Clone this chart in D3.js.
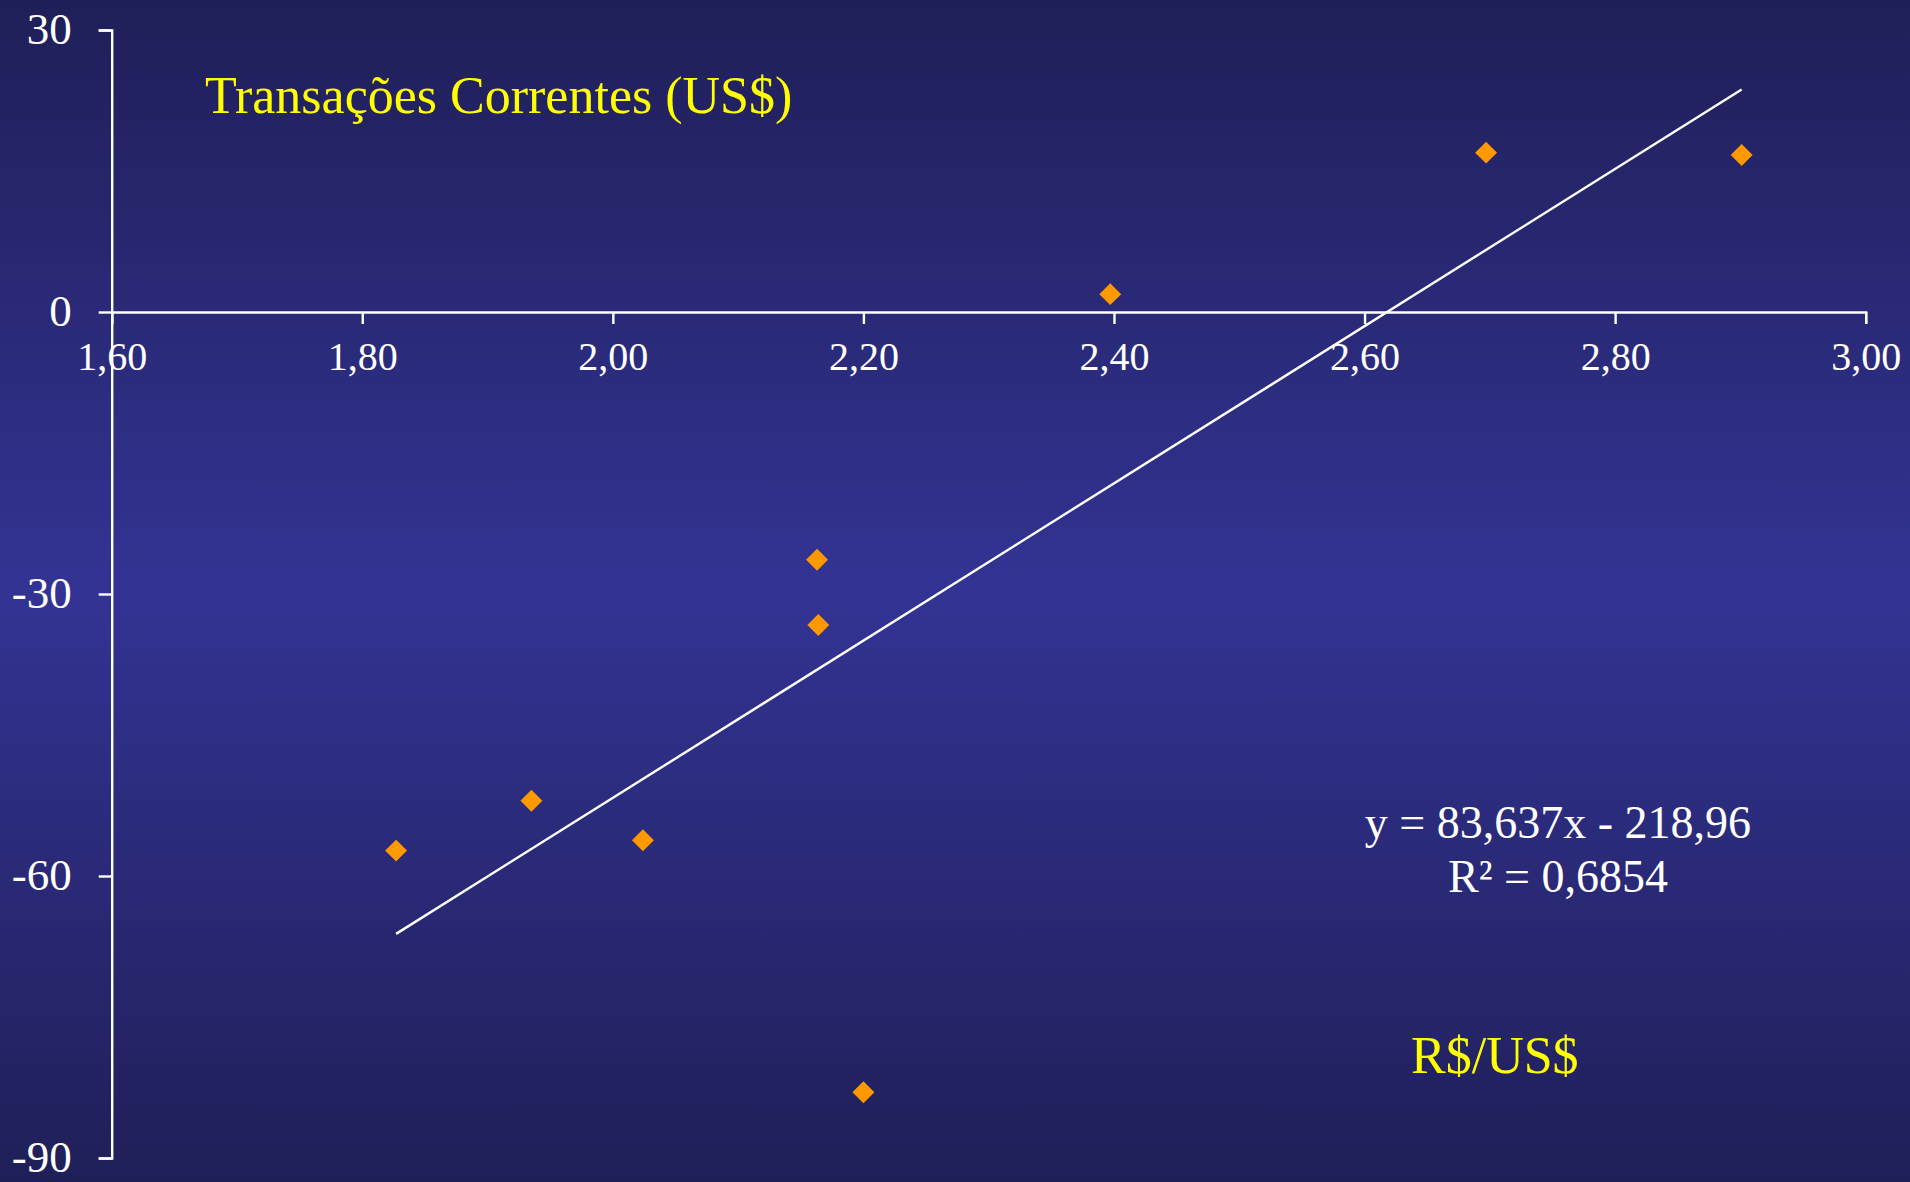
<!DOCTYPE html>
<html>
<head>
<meta charset="utf-8">
<script src="https://cdn.jsdelivr.net/npm/d3@7/dist/d3.min.js"></script>
<style>
  html, body { margin: 0; padding: 0; background: #1f1f5a; }
  svg { display: block; }
</style>
</head>
<body>
<script>
// exchange rate R$/US$ vs current account (US$ bn)
var cambio = [1.827, 1.935, 2.024, 2.163, 2.164, 2.200, 2.397, 2.697, 2.901];
var transacoes = [-57.3, -52.0, -56.2, -26.35, -33.3, -83.0, 1.9, 16.95, 16.7];
var xTicks = [1.6, 1.8, 2.0, 2.2, 2.4, 2.6, 2.8, 3.0];
var yTicks = [30, 0, -30, -60, -90];
var trendCoef = [83.637, -218.96];
var trendLabels = ["y = 83,637x - 218,96", "R\u00b2 = 0,6854"];

var W = 1910, H = 1182;
var svg = d3.select("body").append("svg").attr("width", W).attr("height", H);

var defs = svg.append("defs");
var grad = defs.append("linearGradient").attr("id", "bg")
    .attr("x1", 0).attr("y1", 0).attr("x2", 0).attr("y2", 1);
grad.append("stop").attr("offset", "0%").attr("stop-color", "#1f1f58");
grad.append("stop").attr("offset", "50%").attr("stop-color", "#333394");
grad.append("stop").attr("offset", "100%").attr("stop-color", "#1f1f58");
svg.append("rect").attr("width", W).attr("height", H).attr("fill", "url(#bg)");

var x = d3.scaleLinear().domain([1.6, 3.0]).range([111.7, 1865.7]);
var y = d3.scaleLinear().domain([-90, 30]).range([1158, 30]);

var serif = "'Liberation Serif', 'Times New Roman', serif";
var fmtComma = function(d) { return d3.format(".2f")(d).replace(".", ","); };

// x axis sits on y = 0
var gx = svg.append("g").attr("transform", "translate(0," + y(0) + ")")
    .call(d3.axisBottom(x).tickValues(xTicks).tickSize(12).tickSizeOuter(12).tickPadding(18).tickFormat(fmtComma));
gx.select(".domain").attr("stroke", "#fff").attr("stroke-width", 2.4);
gx.selectAll(".tick line").attr("stroke", "#fff").attr("stroke-width", 2.4);
gx.selectAll(".tick text").attr("fill", "#fff")
    .style("font-family", serif).style("font-size", "40px");

var gy = svg.append("g").attr("transform", "translate(" + x(1.6) + ",0)")
    .call(d3.axisLeft(y).tickValues(yTicks).tickSize(13).tickSizeOuter(13).tickPadding(27).tickFormat(function(d) { return String(d); }));
gy.select(".domain").attr("stroke", "#fff").attr("stroke-width", 2.4);
gy.selectAll(".tick line").attr("stroke", "#fff").attr("stroke-width", 2.4);
gy.selectAll(".tick text").attr("fill", "#fff").attr("dy", "0.3em")
    .style("font-family", serif).style("font-size", "45px");

// linear trend over the data range
var xMin = d3.min(cambio), xMax = d3.max(cambio);
var trend = [xMin, xMax].map(function(v) { return [v, trendCoef[0] * v + trendCoef[1]]; });
svg.append("path")
    .attr("d", d3.line().x(function(d) { return x(d[0]); }).y(function(d) { return y(d[1]); })(trend))
    .attr("stroke", "#fff").attr("stroke-width", 2.4).attr("fill", "none");

// points
var sym = d3.symbol().type(d3.symbolSquare).size(240);
svg.append("g").selectAll("path").data(cambio).enter().append("path")
    .attr("d", sym)
    .attr("transform", function(d, i) { return "translate(" + x(d) + "," + y(transacoes[i]) + ") rotate(45)"; })
    .attr("fill", "#ff9900");

// labels
svg.append("text").attr("x", 205).attr("y", 113)
    .attr("fill", "#ffff00")
    .style("font-family", serif).style("font-size", "52px")
    .text("Transações Correntes (US$)");

svg.append("g").selectAll("text").data(trendLabels).enter().append("text")
    .attr("x", 1558).attr("y", function(d, i) { return 838 + i * 54; })
    .attr("text-anchor", "middle").attr("fill", "#fff")
    .style("font-family", serif).style("font-size", "46px")
    .text(function(d) { return d; });

svg.append("text").attr("x", 1411).attr("y", 1073)
    .attr("fill", "#ffff00")
    .style("font-family", serif).style("font-size", "52px")
    .text("R$/US$");
</script>
</body>
</html>
